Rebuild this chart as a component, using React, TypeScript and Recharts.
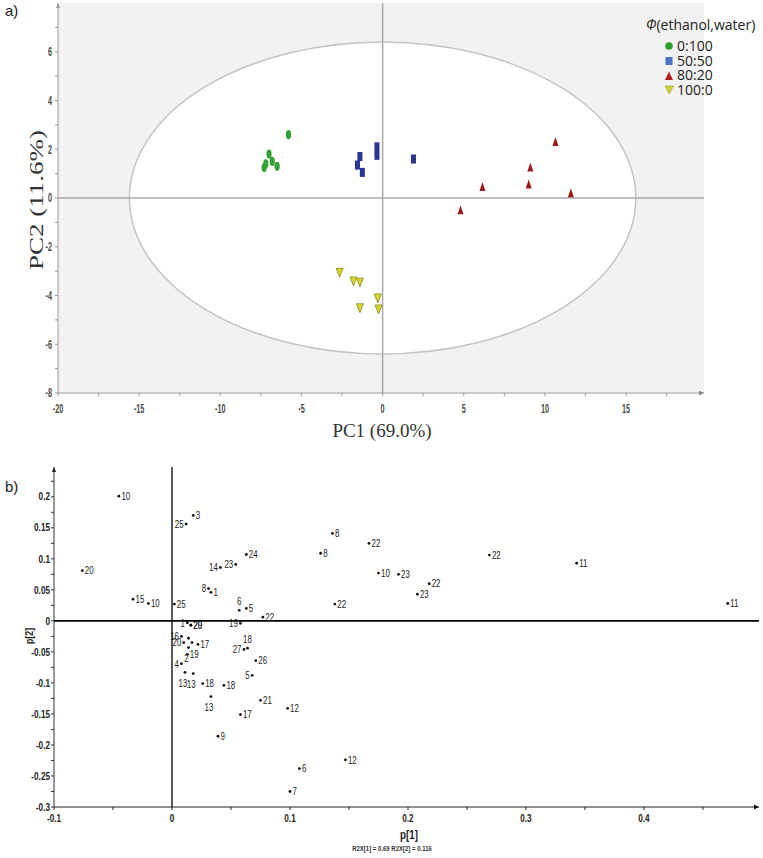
import React from 'react';
import { ScatterChart, Scatter, XAxis, YAxis, ReferenceLine, ReferenceArea, ReferenceDot } from 'recharts';

const SANS = "'Liberation Sans', Arial, sans-serif";

// ---- a) PCA scores, one group per ethanol:water ratio
const solventGroups = ['0:100', '50:50', '80:20', '100:0'];
const pc1Water = [-5.8, -7.0, -6.8, -7.3, -7.2, -6.5];
const pc2Water = [2.6, 1.8, 1.5, 1.25, 1.4, 1.3];
const pc1Half = [-0.35, -0.35, -1.4, -1.55, -1.25, 1.9];
const pc2Half = [2.1, 1.75, 1.7, 1.35, 1.05, 1.6];
const pc1Ethanol80 = [10.65, 9.1, 9.0, 6.15, 11.6, 4.8];
const pc2Ethanol80 = [2.3, 1.25, 0.55, 0.45, 0.2, -0.5];
const pc1Ethanol = [-2.65, -1.8, -1.4, -1.4, -0.3, -0.25];
const pc2Ethanol = [-3.05, -3.4, -3.45, -4.5, -4.1, -4.55];

// Hotelling T2 ellipse half-axes (PC1, PC2), centred on the origin
const t2Axes = [15.6, 6.4];

const scoreXTicks = [-20, -17.5, -15, -12.5, -10, -7.5, -5, -2.5, 0, 2.5, 5, 7.5, 10, 12.5, 15, 17.5];
const scoreYTicks = [-8, -7, -6, -5, -4, -3, -2, -1, 0, 1, 2, 3, 4, 5, 6, 7];

// ---- b) loadings p[1] / p[2]
const loadingVars = ['10', '20', '15', '10', '25', '25', '3', '14', '23', '24', '8', '1', '6', '5', '19', '22', '1', '20', '29',
  '8', '8', '22', '10', '22', '23', '22', '11', '22', '23', '11', '18', '27', '26', '5', '21', '12', '17', '9', '12', '6', '7',
  '18', '18', '13', '13', '13', '4', '17', '16', '20', '', '', '2', '19'];
const p1 = [-0.045, -0.076, -0.033, -0.02, 0.002, 0.012, 0.018, 0.041, 0.054, 0.063, 0.031, 0.033, 0.057, 0.063, 0.058, 0.077,
  0.013, 0.016, 0.016, 0.136, 0.126, 0.167, 0.175, 0.138, 0.192, 0.269, 0.343, 0.218, 0.208, 0.471, 0.064, 0.061, 0.071, 0.068,
  0.075, 0.098, 0.058, 0.039, 0.147, 0.108, 0.1, 0.026, 0.044, 0.033, 0.011, 0.018, 0.008, 0.022, 0.008, 0.01, 0.014, 0.017,
  0.014, 0.013];
const p2 = [0.201, 0.081, 0.035, 0.028, 0.027, 0.156, 0.17, 0.086, 0.091, 0.107, 0.052, 0.046, 0.017, 0.02, -0.004, 0.006,
  -0.003, -0.007, -0.007, 0.141, 0.109, 0.125, 0.077, 0.027, 0.075, 0.106, 0.093, 0.06, 0.043, 0.028, -0.044, -0.046, -0.064,
  -0.088, -0.128, -0.141, -0.151, -0.186, -0.224, -0.238, -0.275, -0.101, -0.104, -0.122, -0.083, -0.085, -0.069, -0.038,
  -0.025, -0.035, -0.028, -0.035, -0.043, -0.054];
// where each variable label sits: r(ight), l(eft), a(bove), b(elow)
const labelSide = ['r', 'r', 'r', 'r', 'r', 'l', 'r', 'l', 'l', 'r', 'l', 'r', 'a', 'r', 'l', 'r', 'l', 'r', 'r',
  'r', 'r', 'r', 'r', 'r', 'r', 'r', 'r', 'r', 'r', 'r', 'a', 'l', 'r', 'l', 'r', 'r', 'r', 'r', 'r', 'r', 'r',
  'r', 'r', 'b', 'b', 'b', 'l', 'r', 'l', 'l', 'r', 'r', 'b', 'r'];

const loadXTicks = [-0.1, -0.05, 0, 0.05, 0.1, 0.15, 0.2, 0.25, 0.3, 0.35, 0.4, 0.45];
const loadYTicks = [-0.3, -0.275, -0.25, -0.225, -0.2, -0.175, -0.15, -0.125, -0.1, -0.075, -0.05, -0.025, 0, 0.025, 0.05,
  0.075, 0.1, 0.125, 0.15, 0.175, 0.2, 0.225];

const zip = (xs: number[], ys: number[]) => xs.map((x, i) => ({ x, y: ys[i] }));

const A_X: [number, number] = [-20, 19.8];
const A_Y: [number, number] = [-8, 8];

const isMultiple = (v: number, step: number) => Math.abs(v / step - Math.round(v / step)) < 1e-6;
const fmtLoad = (v: number) => (Math.abs(v) < 1e-9 ? '0' : String(+v.toFixed(3)));

// condensed text: the original uses a narrow face, squeeze Arial horizontally
function NarrowText({ x, y, dy = '0', anchor = 'start', size = 10, weight = 400, fill = '#222', squeeze = 0.78, children }: any) {
  return (
    <text transform={`translate(${x} ${y}) scale(${squeeze} 1)`} x={0} y={0} dy={dy} textAnchor={anchor}
      fontFamily={SANS} fontSize={size} fontWeight={weight} fill={fill}>
      {children}
    </text>
  );
}

const legendMarkers = [
  <circle cx={6} cy={7} r={3.8} fill="#2ca02c" />,
  <rect x={2.5} y={3} width={7} height={8} fill="#4a74c9" />,
  <polygon points="6,2.5 10,11 2,11" fill="#b01e1e" />,
  <polygon points="2,3 10.5,3 6.2,11" fill="#d2d23a" stroke="#9a9a2a" strokeWidth={0.6} />,
];

function ScoreLegend() {
  return (
    <div style={{ position: 'absolute', left: 646, top: 17, width: 117, fontFamily: "'Open Sans', sans-serif", color: '#222' }}>
      <div style={{ fontSize: 14, lineHeight: '16px', whiteSpace: 'nowrap' }}>
        <i>Φ</i>(ethanol,water)
      </div>
      <div style={{ marginTop: 6 }}>
        {solventGroups.map((g, i) => (
          <div key={g} style={{ display: 'flex', alignItems: 'center', height: 14.7, lineHeight: '14.7px', marginLeft: 17, fontSize: 14 }}>
            <svg width={13} height={14} style={{ marginRight: 1 }}>{legendMarkers[i]}</svg>
            <span style={{ lineHeight: '14.7px' }}>{g}</span>
          </div>
        ))}
      </div>
    </div>
  );
}

// grey plot background with the white T2 ellipse, placed from the area's own pixel box
function ScoreBackground(p: any) {
  const sx = p.width / (A_X[1] - A_X[0]);
  const sy = p.height / (A_Y[1] - A_Y[0]);
  const cx = p.x + (0 - A_X[0]) * sx;
  const cy = p.y + (A_Y[1] - 0) * sy;
  return (
    <g>
      <rect x={p.x} y={p.y} width={p.width} height={p.height} fill="#f2f2f2" />
      <ellipse cx={cx} cy={cy} rx={t2Axes[0] * sx} ry={t2Axes[1] * sy} fill="#ffffff" stroke="#c4c4c4" strokeWidth={1.5} />
    </g>
  );
}

function ScoresPlot() {
  return (
    <div style={{ position: 'absolute', left: 0, top: 0, width: 763, height: 440 }}>
      <ScatterChart width={763} height={440} margin={{ top: 3, right: 59, bottom: 17, left: 18 }}>
        <XAxis
          type="number"
          dataKey="x"
          domain={A_X}
          ticks={scoreXTicks}
          interval={0}
          allowDataOverflow
          stroke="#9a9a9a"
          tickSize={3}
          tickMargin={8}
          tick={(t: any) =>
            isMultiple(t.payload.value, 5) ? (
              <NarrowText x={t.x} y={t.y} dy="0.71em" anchor="middle" size={12.5} weight={700} fill="#4a4a4a" squeeze={0.58}>
                {t.payload.value}
              </NarrowText>
            ) : <g />
          }
        />
        <YAxis
          type="number"
          dataKey="y"
          domain={A_Y}
          ticks={scoreYTicks}
          interval={0}
          allowDataOverflow
          width={40}
          stroke="#9a9a9a"
          tickSize={3}
          tickMargin={3}
          tick={(t: any) =>
            isMultiple(t.payload.value, 2) ? (
              <NarrowText x={t.x} y={t.y} dy="0.35em" anchor="end" size={12.5} weight={700} fill="#4a4a4a" squeeze={0.58}>
                {t.payload.value}
              </NarrowText>
            ) : <g />
          }
        />
        <ReferenceArea x1={A_X[0]} x2={A_X[1]} y1={A_Y[0]} y2={A_Y[1]} shape={(p: any) => <ScoreBackground {...p} />} />
        <ReferenceLine y={0} stroke="#a8a8a8" strokeWidth={1.5} />
        <ReferenceLine x={0} stroke="#a8a8a8" strokeWidth={1.5} />
        <ReferenceDot x={A_X[1]} y={A_Y[0]} ifOverflow="visible"
          shape={(p: any) => <polygon points={`${p.cx},${p.cy} ${p.cx - 5},${p.cy - 2.5} ${p.cx - 5},${p.cy + 2.5}`} fill="#888" />} />
        <ReferenceDot x={A_X[0]} y={A_Y[1]} ifOverflow="visible"
          shape={(p: any) => <polygon points={`${p.cx},${p.cy} ${p.cx - 2},${p.cy + 5} ${p.cx + 2},${p.cy + 5}`} fill="#999" />} />
        <Scatter name={solventGroups[0]} data={zip(pc1Water, pc2Water)} fill="#2ca02c" isAnimationActive={false}
          shape={(p: any) => <ellipse cx={p.cx} cy={p.cy} rx={2.6} ry={4.6} fill="#33a136" />} />
        <Scatter name={solventGroups[1]} data={zip(pc1Half, pc2Half)} fill="#4a74c9" isAnimationActive={false}
          shape={(p: any) => <rect x={p.cx - 2.5} y={p.cy - 4.5} width={5} height={9} fill="#2b3592" />} />
        <Scatter name={solventGroups[2]} data={zip(pc1Ethanol80, pc2Ethanol80)} fill="#b01e1e" isAnimationActive={false}
          shape={(p: any) => <polygon points={`${p.cx},${p.cy - 5} ${p.cx + 3},${p.cy + 4} ${p.cx - 3},${p.cy + 4}`} fill="#9c1a1a" />} />
        <Scatter name={solventGroups[3]} data={zip(pc1Ethanol, pc2Ethanol)} fill="#d2d23a" isAnimationActive={false}
          shape={(p: any) => (
            <polygon points={`${p.cx - 3.5},${p.cy - 4} ${p.cx + 3.5},${p.cy - 4} ${p.cx},${p.cy + 5}`} fill="#d6d62c" stroke="#8c8c1e" strokeWidth={0.8} />
          )} />
      </ScatterChart>
      <ScoreLegend />
      <div style={{ position: 'absolute', left: 5, top: 2, fontFamily: SANS, fontSize: 15, color: '#222' }}>a)</div>
      <svg width={763} height={448} style={{ position: 'absolute', left: 0, top: 0, pointerEvents: 'none', overflow: 'visible' }}>
        <text x={382} y={437} textAnchor="middle" fontFamily="'Liberation Serif', serif" fontSize={19} fill="#333">PC1 (69.0%)</text>
        <text transform="translate(36 200) rotate(-90) scale(1.42 1)" x={0} y={0} dy="0.35em" textAnchor="middle"
          fontFamily="'Liberation Serif', serif" fontSize={19} fill="#333">PC2 (11.6%)</text>
      </svg>
    </div>
  );
}

function LoadingDot(p: any) {
  const { cx, cy, payload } = p;
  let tx = cx + 2.5;
  let ty = cy;
  let anchor = 'start';
  if (payload.side === 'l') { tx = cx - 2.5; anchor = 'end'; }
  if (payload.side === 'a') { tx = cx; ty = cy - 9; anchor = 'middle'; }
  if (payload.side === 'b') { tx = cx - 2; ty = cy + 11; anchor = 'middle'; }
  return (
    <g>
      <circle cx={cx} cy={cy} r={1.4} fill="#111" />
      {payload.label ? (
        <NarrowText x={tx} y={ty} dy="0.35em" anchor={anchor} size={11} fill="#1a1a1a" squeeze={0.72}>{payload.label}</NarrowText>
      ) : null}
    </g>
  );
}

function LoadingsPlot() {
  const data = p1.map((x, i) => ({ x, y: p2[i], label: loadingVars[i], side: labelSide[i] }));
  const X: [number, number] = [-0.1, 0.4975];
  const Y: [number, number] = [-0.3, 0.248];
  return (
    <div style={{ position: 'absolute', left: 0, top: 440, width: 763, height: 418 }}>
      <ScatterChart width={763} height={418} margin={{ top: 27, right: 4, bottom: 21, left: 14 }}>
        <XAxis
          type="number"
          dataKey="x"
          domain={X}
          ticks={loadXTicks}
          interval={0}
          allowDataOverflow
          stroke="#222"
          tickSize={3}
          tickMargin={5}
          tick={(t: any) =>
            isMultiple(t.payload.value, 0.1) ? (
              <NarrowText x={t.x} y={t.y} dy="0.71em" anchor="middle" size={10.5} weight={700} squeeze={0.78}>
                {fmtLoad(t.payload.value)}
              </NarrowText>
            ) : <g />
          }
        />
        <YAxis
          type="number"
          dataKey="y"
          domain={Y}
          ticks={loadYTicks}
          interval={0}
          allowDataOverflow
          width={40}
          stroke="#333"
          tickSize={3}
          tickMargin={1}
          tick={(t: any) =>
            isMultiple(t.payload.value, 0.05) ? (
              <NarrowText x={t.x} y={t.y} dy="0.35em" anchor="end" size={10.5} weight={700} squeeze={0.78}>
                {fmtLoad(t.payload.value)}
              </NarrowText>
            ) : <g />
          }
        />
        <ReferenceLine y={0} stroke="#000" strokeWidth={1.6} />
        <ReferenceLine x={0} stroke="#000" strokeWidth={1.3} />
        <ReferenceDot x={X[1]} y={Y[0]} ifOverflow="visible"
          shape={(p: any) => <polygon points={`${p.cx},${p.cy} ${p.cx - 5},${p.cy - 2.5} ${p.cx - 5},${p.cy + 2.5}`} fill="#111" />} />
        <ReferenceDot x={X[0]} y={Y[1]} ifOverflow="visible"
          shape={(p: any) => <polygon points={`${p.cx},${p.cy} ${p.cx - 2},${p.cy + 5} ${p.cx + 2},${p.cy + 5}`} fill="#222" />} />
        <Scatter data={data} fill="#111" isAnimationActive={false} shape={(p: any) => <LoadingDot {...p} />} />
      </ScatterChart>
      <div style={{ position: 'absolute', left: 5, top: 38, fontFamily: SANS, fontSize: 15, color: '#222' }}>b)</div>
      <svg width={763} height={418} style={{ position: 'absolute', left: 0, top: 0, pointerEvents: 'none' }}>
        <g transform="translate(29 196) rotate(-90)">
          <NarrowText x={0} y={0} dy="0.35em" anchor="middle" size={11} weight={700} squeeze={0.8}>p[2]</NarrowText>
        </g>
        <NarrowText x={409} y={399} anchor="middle" size={13} weight={700} squeeze={0.75}>p[1]</NarrowText>
        <NarrowText x={392} y={411} anchor="middle" size={7.5} weight={700} fill="#333" squeeze={0.8}>R2X[1] = 0.69   R2X[2] = 0.116</NarrowText>
      </svg>
    </div>
  );
}

export default function App() {
  return (
    <div style={{ position: 'absolute', left: 0, top: 0, width: 763, height: 858, background: '#fff', overflow: 'hidden' }}>
      <ScoresPlot />
      <LoadingsPlot />
    </div>
  );
}
